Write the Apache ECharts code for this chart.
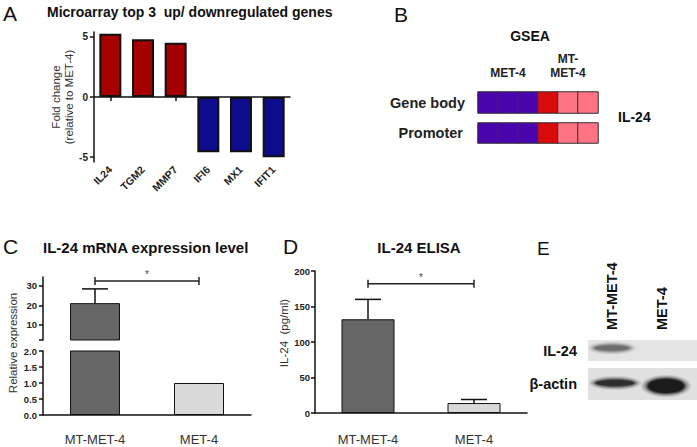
<!DOCTYPE html>
<html><head><meta charset="utf-8">
<script src="https://cdn.jsdelivr.net/npm/echarts@6/dist/echarts.min.js"></script>
<style>html,body{margin:0;padding:0;background:#fff}#c{width:697px;height:447px}</style>
</head><body><div id="c"></div>
<script>
const FONT = '"Liberation Sans", Arial, Helvetica, sans-serif';

// ---- Panel A: microarray fold change ----
const genes = ['IL24', 'TGM2', 'MMP7', 'IFI6', 'MX1', 'IFIT1'];
const foldChange = [5.25, 4.8, 4.5, -4.6, -4.6, -5.0];
const foldTicks = [-5, 0, 5];

// ---- Panel B: GSEA heat strip ----
const gseaColumns = ['MET-4', 'MET-4', 'MET-4', 'MT-MET-4', 'MT-MET-4', 'MT-MET-4'];
const gseaRows = ['Gene body', 'Promoter'];
const gseaGeneBody = [-1, -1, -1, 1, 0.5, 0.5];
const gseaPromoter = [-1, -1, -1, 1, 0.5, 0.5];

// ---- Panel C: IL-24 mRNA (broken axis) ----
const groups = ['MT-MET-4', 'MET-4'];
const mrnaMean = [21.2, 1.0];
const mrnaErr = [7.3, 0];
const mrnaTopTicks = [10, 20, 30];
const mrnaSig = [0, 32.6, 1];

// ---- Panel D: IL-24 ELISA ----
const elisaMean = [132, 14];
const elisaErr = [28, 5];
const elisaSig = [0, 182, 1];
const sigLabel = '*';

// ---- Panel E: western blot labels ----
const blotLanes = ['MT-MET-4', 'MET-4'];
const blotRows = ['IL-24', 'β-actin'];

const chart = echarts.init(document.getElementById('c'), null, {renderer: 'svg'});

const BLK = '#111';
const axisLine = {show: true, lineStyle: {color: BLK, width: 1.5}};
const boldLab = {fontFamily: FONT, fontWeight: 'bold', fontSize: 9.5, color: '#222'};

function renderErr(params, api) {
  const i = api.value(0), m = api.value(1), e = api.value(2);
  if (!e) return;
  const a = api.coord([i, m]), b = api.coord([i, m + e]);
  const cs = 13;
  const st = {stroke: BLK, lineWidth: 1.5};
  return {type: 'group', children: [
    {type: 'line', shape: {x1: a[0], y1: a[1], x2: b[0], y2: b[1]}, style: st},
    {type: 'line', shape: {x1: b[0] - cs, y1: b[1], x2: b[0] + cs, y2: b[1]}, style: st}
  ]};
}
function renderSig(params, api) {
  const f = api.value(0), lvl = api.value(1), t = api.value(2);
  const a = api.coord([f, lvl]), b = api.coord([t, lvl]);
  const st = {stroke: '#222', lineWidth: 1.5};
  return {type: 'group', children: [
    {type: 'line', shape: {x1: a[0], y1: a[1], x2: b[0], y2: b[1]}, style: st},
    {type: 'line', shape: {x1: a[0], y1: a[1] - 4, x2: a[0], y2: a[1] + 4}, style: st},
    {type: 'line', shape: {x1: b[0], y1: b[1] - 4, x2: b[0], y2: b[1] + 4}, style: st},
    {type: 'text', x: (a[0] + b[0]) / 2, y: a[1] - 7,
     style: {text: sigLabel, fontSize: 11, fontFamily: FONT, fill: '#555', align: 'center', verticalAlign: 'middle'}}
  ]};
}

function txt(text, x, y, o) {
  return {type: 'text', x: x, y: y, rotation: (o && o.rot) || 0, silent: true,
    style: Object.assign({text: text, fontFamily: FONT, fontSize: 14, fontWeight: 'bold', fill: '#111',
      align: 'left', verticalAlign: 'middle'}, o && o.s)};
}
// soft blot band built from stacked translucent ellipses
function band(cx, cy, rx, ry, color) {
  const layers = [[7, 4, 0.12], [5, 3, 0.18], [3, 2, 0.3], [1.5, 1, 0.5], [0, 0, 0.9]];
  return layers.map(l => ({type: 'ellipse', silent: true,
    shape: {cx: cx, cy: cy, rx: rx + l[0], ry: ry + l[1]},
    style: {fill: color, opacity: l[2]}}));
}

const barColorsC = ['#666666', '#d9d9d9'];

const option = {
  backgroundColor: '#fff',
  animation: false,
  grid: [
    {left: 94, top: 32, width: 196, height: 130, outerBoundsMode: 'none'},   // A
    {left: 478, top: 92, width: 120, height: 21, outerBoundsMode: 'none'},   // B1
    {left: 478, top: 123, width: 120, height: 20, outerBoundsMode: 'none'},  // B2
    {left: 43, top: 277, width: 208, height: 63, outerBoundsMode: 'none'},   // C top
    {left: 43, top: 351, width: 208, height: 64, outerBoundsMode: 'none'},   // C bottom
    {left: 315, top: 271, width: 212, height: 142, outerBoundsMode: 'none'}  // D
  ],
  xAxis: [
    {type: 'category', gridIndex: 0, data: genes, position: 'bottom',
     axisLine: {show: false, onZero: false}, axisTick: {show: false},
     axisLabel: Object.assign({}, boldLab, {fontSize: 10.5, rotate: 45, interval: 0, margin: 6})},
    {type: 'category', gridIndex: 0, data: genes, position: 'bottom',
     axisLine: Object.assign({onZero: true}, axisLine),
     axisTick: {show: true, alignWithLabel: true, length: 4, lineStyle: {color: BLK, width: 1.5}},
     axisLabel: {show: false}},
    {type: 'category', gridIndex: 1, data: gseaColumns.map((c, i) => String(i)), position: 'top',
     axisLine: {show: false}, axisTick: {show: false},
     axisLabel: {interval: 0, margin: 12, fontFamily: FONT, fontWeight: 'bold', fontSize: 12, color: '#222', lineHeight: 14,
       formatter: (v, i) => {
         const g = gseaColumns[i];
         const first = gseaColumns.indexOf(g), last = gseaColumns.lastIndexOf(g);
         return i === Math.floor((first + last) / 2) ? g.replace('MT-', 'MT-\n') : '';
       }}},
    {type: 'category', gridIndex: 2, data: gseaColumns.map((c, i) => String(i)), show: false},
    {type: 'category', gridIndex: 3, data: groups, show: false},
    {type: 'category', gridIndex: 4, data: groups, position: 'bottom',
     axisLine: Object.assign({onZero: false}, axisLine),
     axisTick: {alignWithLabel: true, length: 4, lineStyle: {color: BLK, width: 1.5}},
     axisLabel: {fontFamily: FONT, fontSize: 13, color: '#333', margin: 18}},
    {type: 'category', gridIndex: 5, data: groups, position: 'bottom',
     axisLine: Object.assign({onZero: false}, axisLine),
     axisTick: {alignWithLabel: true, length: 4, lineStyle: {color: BLK, width: 1.5}},
     axisLabel: {fontFamily: FONT, fontSize: 13, color: '#333', margin: 20}}
  ],
  yAxis: [
    {type: 'value', gridIndex: 0, min: -5.4, max: 5.4, splitLine: {show: false},
     axisLine: axisLine,
     axisTick: {show: true, customValues: foldTicks, length: 4, lineStyle: {color: BLK, width: 1.5}},
     axisLabel: Object.assign({}, boldLab, {fontSize: 10, customValues: foldTicks, margin: 6}),
     name: 'Fold change\n(relative to MET-4)', nameLocation: 'middle', nameGap: 17,
     nameTextStyle: {fontFamily: FONT, fontSize: 11.5, color: '#333', lineHeight: 13}},
    {type: 'category', gridIndex: 1, data: [gseaRows[0]], axisLine: {show: false}, axisTick: {show: false},
     axisLabel: {fontFamily: FONT, fontWeight: 'bold', fontSize: 14.5, color: '#222', margin: 13}},
    {type: 'category', gridIndex: 2, data: [gseaRows[1]], axisLine: {show: false}, axisTick: {show: false},
     axisLabel: {fontFamily: FONT, fontWeight: 'bold', fontSize: 14.5, color: '#222', margin: 15}},
    {type: 'value', gridIndex: 3, min: 2.3, max: 34.6, splitLine: {show: false},
     axisLine: axisLine,
     axisTick: {show: true, customValues: [2.3].concat(mrnaTopTicks), length: 4, lineStyle: {color: BLK, width: 1.5}},
     axisLabel: Object.assign({}, boldLab, {customValues: mrnaTopTicks, margin: 6})},
    {type: 'value', gridIndex: 4, min: 0, max: 2, interval: 0.5, splitLine: {show: false},
     axisLine: axisLine,
     axisTick: {show: true, length: 4, lineStyle: {color: BLK, width: 1.5}},
     axisLabel: Object.assign({}, boldLab, {margin: 6, formatter: v => v.toFixed(1)})},
    {type: 'value', gridIndex: 5, min: 0, max: 200, interval: 50, splitLine: {show: false},
     axisLine: axisLine,
     axisTick: {show: true, length: 4, lineStyle: {color: BLK, width: 1.5}},
     axisLabel: Object.assign({}, boldLab, {margin: 5})}
  ],
  visualMap: {
    type: 'piecewise', show: false, seriesIndex: [1, 2], dimension: 2,
    pieces: [
      {value: -1, color: '#4a04ad'},
      {value: 1, color: '#d90a0a'},
      {value: 0.5, color: '#ff7385'}
    ]
  },
  series: [
    {type: 'bar', xAxisIndex: 0, yAxisIndex: 0, data: foldChange, barWidth: 22,
     itemStyle: {color: p => p.value >= 0 ? '#a50000' : '#0c0c8c', borderColor: BLK, borderWidth: 2}},
    {type: 'heatmap', xAxisIndex: 2, yAxisIndex: 1, data: gseaGeneBody.map((v, i) => [i, 0, v]),
     itemStyle: {borderColor: '#333', borderWidth: 1}},
    {type: 'heatmap', xAxisIndex: 3, yAxisIndex: 2, data: gseaPromoter.map((v, i) => [i, 0, v]),
     itemStyle: {borderColor: '#333', borderWidth: 1}},
    {type: 'bar', xAxisIndex: 4, yAxisIndex: 3, data: mrnaMean, barWidth: 50,
     itemStyle: {color: p => barColorsC[p.dataIndex], borderColor: BLK, borderWidth: 1}},
    {type: 'bar', xAxisIndex: 5, yAxisIndex: 4, data: mrnaMean, barWidth: 50,
     itemStyle: {color: p => barColorsC[p.dataIndex], borderColor: BLK, borderWidth: 1}},
    {type: 'custom', xAxisIndex: 4, yAxisIndex: 3, z: 5, renderItem: renderErr,
     data: mrnaMean.map((m, i) => [i, m, mrnaErr[i]])},
    {type: 'custom', xAxisIndex: 4, yAxisIndex: 3, z: 5, renderItem: renderSig,
     encode: {x: [0, 2], y: 1}, data: [mrnaSig]},
    {type: 'bar', xAxisIndex: 6, yAxisIndex: 5, data: elisaMean, barWidth: 53,
     itemStyle: {color: p => barColorsC[p.dataIndex], borderColor: BLK, borderWidth: 1}},
    {type: 'custom', xAxisIndex: 6, yAxisIndex: 5, z: 5, renderItem: renderErr,
     data: elisaMean.map((m, i) => [i, m, elisaErr[i]])},
    {type: 'custom', xAxisIndex: 6, yAxisIndex: 5, z: 5, renderItem: renderSig,
     encode: {x: [0, 2], y: 1}, data: [elisaSig]}
  ],
  graphic: [
    // panel letters
    txt('A', 3, 13, {s: {fontSize: 21, fontWeight: 'normal'}}),
    txt('B', 394, 14, {s: {fontSize: 21, fontWeight: 'normal'}}),
    txt('C', 3, 246, {s: {fontSize: 21, fontWeight: 'normal'}}),
    txt('D', 283, 246, {s: {fontSize: 21, fontWeight: 'normal'}}),
    txt('E', 537, 248, {s: {fontSize: 19, fontWeight: 'normal'}}),
    // titles
    txt('Microarray top 3  up/ downregulated genes', 47, 12, {s: {fontSize: 14}}),
    txt('GSEA', 530, 36, {s: {fontSize: 14, align: 'center'}}),
    txt('IL-24', 618, 117, {s: {fontSize: 14}}),
    txt('IL-24 mRNA expression level', 43, 247, {s: {fontSize: 15}}),
    txt('IL-24 ELISA', 419, 247, {s: {fontSize: 15, align: 'center'}}),
    // axis names
    txt('Relative expression', 13, 343, {rot: Math.PI / 2, s: {fontSize: 11.5, fontWeight: 'normal', fill: '#333', align: 'center'}}),
    txt('IL-24  (pg/ml)', 284, 333, {rot: Math.PI / 2, s: {fontSize: 11.5, fontWeight: 'normal', fill: '#333', align: 'center'}}),
    // western blot panel
    {type: 'rect', shape: {x: 588, y: 340, width: 109, height: 21}, style: {fill: '#e4e4e4'}, silent: true},
    {type: 'rect', shape: {x: 588, y: 368, width: 109, height: 32}, style: {fill: '#e0e0e0'}, silent: true}
  ].concat(
    band(612, 348, 17, 2.5, '#6a6a6a'),
    band(615, 383, 19, 3, '#2a2a2a'),
    band(666, 386, 18, 7, '#161616'),
    [
      txt(blotLanes[0], 612, 330, {rot: Math.PI / 2, s: {fontSize: 14.5}}),
      txt(blotLanes[1], 662, 330, {rot: Math.PI / 2, s: {fontSize: 14.5}}),
      txt(blotRows[0], 577, 351, {s: {fontSize: 14.5, align: 'right'}}),
      txt(blotRows[1], 577, 384, {s: {fontSize: 14.5, align: 'right'}})
    ])
};
chart.setOption(option);
</script>
</body></html>
